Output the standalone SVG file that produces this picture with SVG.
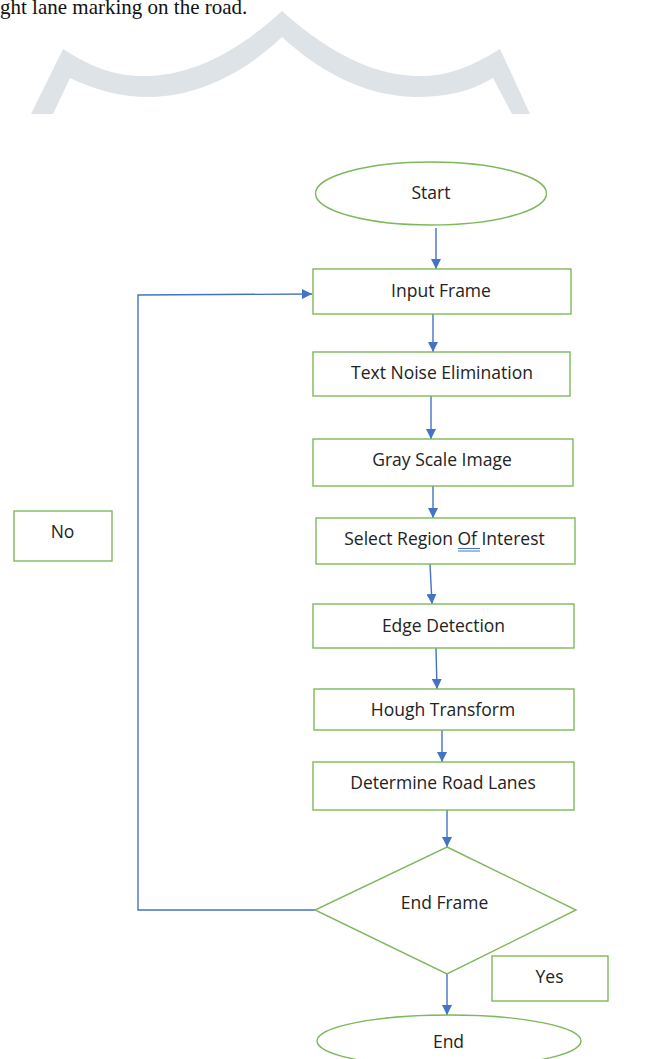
<svg xmlns="http://www.w3.org/2000/svg" width="660" height="1059" viewBox="0 0 660 1059">
<defs>
<marker id="ah" viewBox="0 0 10 10" refX="10" refY="5" markerWidth="10" markerHeight="10" markerUnits="userSpaceOnUse" orient="auto">
<path d="M0,0 L10,5 L0,10 Z" fill="#4472C4"/>
</marker>
<style>
.n{fill:#fff;stroke:#7CB95A;stroke-width:1.4}
.t{font-family:"Open Sans","Liberation Sans",sans-serif;font-size:17.5px;fill:#222;text-anchor:middle}
.c{fill:none;stroke:#4472C4;stroke-width:1.4}
</style>
</defs>
<rect width="660" height="1059" fill="#fff"/>
<text x="0" y="14" font-family="Liberation Serif,serif" font-size="21" fill="#111">ght lane marking on the road.</text>
<path d="M31 114 L63 49 C95 70 120 77 150 76 C200 74 245 45 282 11 C320 45 365 74 415 76 C445 77 470 68 500 49 L530 114 L512 114 L493 78 C470 92 445 97 415 97 C365 96 320 72 282 37 C245 72 200 96 150 97 C120 97 95 90 70 78 L53 114 Z" fill="#DDE3E7"/>
<g id="connectors">
<line class="c" x1="436" y1="228" x2="436" y2="269" marker-end="url(#ah)"/>
<line class="c" x1="433" y1="314" x2="433" y2="352" marker-end="url(#ah)"/>
<line class="c" x1="431" y1="396" x2="431" y2="439" marker-end="url(#ah)"/>
<line class="c" x1="433" y1="486" x2="433" y2="518" marker-end="url(#ah)"/>
<line class="c" x1="430" y1="564" x2="432" y2="604" marker-end="url(#ah)"/>
<line class="c" x1="436" y1="648" x2="437" y2="689" marker-end="url(#ah)"/>
<line class="c" x1="442" y1="730" x2="442" y2="762" marker-end="url(#ah)"/>
<line class="c" x1="447" y1="810" x2="447" y2="847" marker-end="url(#ah)"/>
<line class="c" x1="447" y1="974" x2="447" y2="1015" marker-end="url(#ah)"/>
<polyline class="c" points="315,910 138,910 138,295 312,294" marker-end="url(#ah)"/>
</g>
<g id="start"><ellipse class="n" cx="431" cy="193.5" rx="115.5" ry="31.5"/><text class="t" x="431" y="199">Start</text></g>
<g id="input"><rect class="n" x="313" y="269" width="258" height="45"/><text class="t" x="441" y="297">Input Frame</text></g>
<g id="noise"><rect class="n" x="313" y="352" width="257" height="44"/><text class="t" x="442" y="379">Text Noise Elimination</text></g>
<g id="gray"><rect class="n" x="313" y="439" width="260" height="47"/><text class="t" x="442" y="466">Gray Scale Image</text></g>
<g id="roi"><rect class="n" x="316" y="518" width="259" height="46"/><text class="t" x="444.5" y="545">Select Region Of Interest</text>
<line x1="458" y1="548.5" x2="480" y2="548.5" stroke="#4472C4" stroke-width="1"/><line x1="458" y1="551" x2="480" y2="551" stroke="#4472C4" stroke-width="1"/></g>
<g id="no"><rect class="n" x="14" y="511" width="98" height="50"/><text class="t" x="62.5" y="538">No</text></g>
<g id="edge"><rect class="n" x="313" y="604" width="261" height="44"/><text class="t" x="443.5" y="632">Edge Detection</text></g>
<g id="hough"><rect class="n" x="314" y="689" width="260" height="41"/><text class="t" x="443" y="716">Hough Transform</text></g>
<g id="lanes"><rect class="n" x="313" y="762" width="261" height="48"/><text class="t" x="443" y="789">Determine Road Lanes</text></g>
<g id="endframe"><polygon class="n" points="447,847 576,910 447,974 315,910"/><text class="t" x="444.5" y="909">End Frame</text></g>
<g id="yes"><rect class="n" x="492" y="956" width="116" height="45"/><text class="t" x="549.5" y="983">Yes</text></g>
<g id="end"><ellipse class="n" cx="449" cy="1041" rx="132" ry="26"/><text class="t" x="448.5" y="1048">End</text></g>
</svg>
